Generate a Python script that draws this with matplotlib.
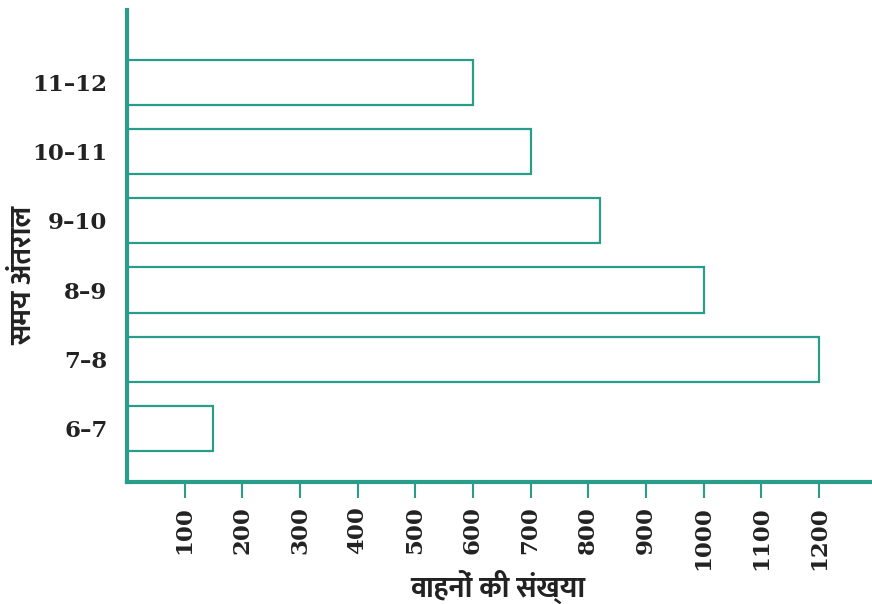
import matplotlib
matplotlib.use("Agg")
import matplotlib.pyplot as plt
from matplotlib import font_manager

categories = ["6–7", "7–8", "8–9", "9–10", "10–11", "11–12"]
values = [150, 1200, 1000, 820, 700, 600]
xticks = [100, 200, 300, 400, 500, 600, 700, 800, 900, 1000, 1100, 1200]
xlabel = "वाहनों की संख्या"
ylabel = "समय अंतराल"

teal = "#2a9d8a"
ink = "#222222"

entries = font_manager.fontManager.ttflist
def is_deva(n):
    return any(k in n for k in ["Devanagari", "Lohit", "Mukta", "Hind", "Kalimati", "Gargi", "Sarai"])
deva_bold = sorted({f.name for f in entries if is_deva(f.name) and
                    (f.weight in ("bold", "heavy", "black", "semibold", "demibold") or
                     (isinstance(f.weight, int) and f.weight >= 600))})
deva_all = sorted({f.name for f in entries if is_deva(f.name)})
label_family = deva_bold + [n for n in deva_all if n not in deva_bold] + ["DejaVu Sans"]

fig = plt.figure(figsize=(8.72, 6.04), dpi=100)
ax = fig.add_axes([0.1456, 0.202, 0.8544, 0.7814])

pos = list(range(len(categories)))
ax.barh(pos, values, height=0.65, color="white", edgecolor=teal, linewidth=1.6)

ax.set_xlim(0, 1292)
ax.set_ylim(-0.77, 6.04)

for side in ["top", "right"]:
    ax.spines[side].set_visible(False)
for side in ["left", "bottom"]:
    ax.spines[side].set_color(teal)
    ax.spines[side].set_linewidth(3.0)

ax.set_yticks(pos)
ax.set_yticklabels(categories, fontfamily="DejaVu Serif", fontweight="bold",
                   fontsize=16.5, color=ink)
ax.tick_params(axis="y", length=0, pad=14)

ax.set_xticks(xticks)
ax.set_xticklabels([str(t) for t in xticks], rotation=90, fontfamily="DejaVu Serif",
                   fontweight="bold", fontsize=16.5, color=ink)
ax.tick_params(axis="x", length=11.5, width=1.5, color=teal, pad=6)

fig.text(0.5705, 0.028, xlabel, ha="center", va="center", fontsize=21,
         fontweight="bold", family=label_family, color=ink)
fig.text(0.027, 0.545, ylabel, ha="center", va="center", rotation=90, fontsize=21,
         fontweight="bold", family=label_family, color=ink)

fig.savefig("out.png", dpi=100, facecolor="white")
